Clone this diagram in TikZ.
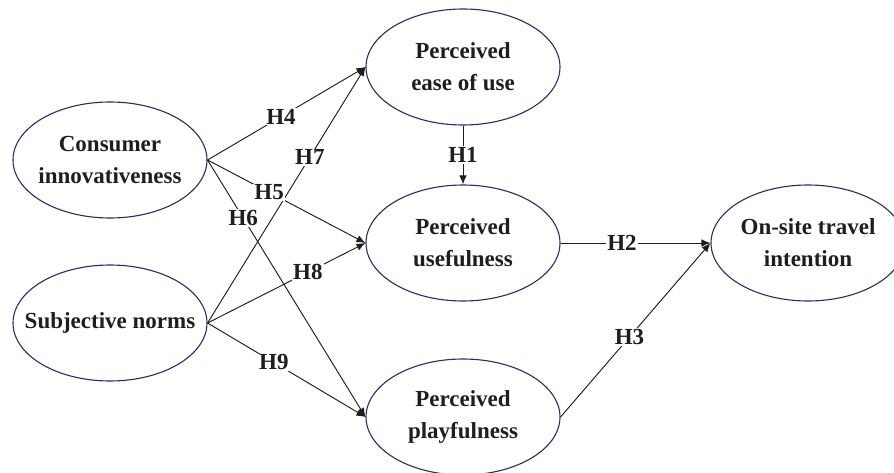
\documentclass[tikz,border=0pt]{standalone}
\usepackage{fontspec}
\setmainfont{Liberation Serif}
\usetikzlibrary{shapes.geometric,arrows.meta}
\definecolor{navy}{HTML}{2B2B6B}
\definecolor{ink}{HTML}{1E1E1E}
\begin{document}
\begin{tikzpicture}[x=1pt,y=-1pt,
  construct/.style={ellipse,draw=navy,line width=1.1pt,minimum width=194pt,minimum height=116pt,inner xsep=-30pt,inner ysep=0pt,align=center,text=ink,font=\fontsize{23}{32}\selectfont\bfseries},
  link/.style={draw=ink,line width=0.95pt,-{Latex[length=9pt,width=7.5pt]}},
  hyp/.style={fill=white,inner sep=1pt,text=ink,font=\fontsize{23}{26}\selectfont\bfseries}]
\useasboundingbox (0,0) rectangle (894,473);
\node[construct] (ci) at (110,160) {Consumer\\innovativeness};
\node[construct] (sn) at (110,323) {Subjective norms};
\node[construct] (peu) at (463,67) {Perceived\\ease of use};
\node[construct] (pu) at (463,243) {Perceived\\usefulness};
\node[construct] (pp) at (463,417) {Perceived\\playfulness};
\node[construct] (oti) at (808,243) {On-site travel\\intention};
\draw[link] (ci.east) -- node[hyp,pos=0.465] {H4} (peu.west);
\draw[link] (sn.east) -- node[hyp,pos=0.648] {H7} (peu.west);
\draw[link] (ci.east) -- node[hyp,pos=0.39] {H5} (pu.west);
\draw[link] (ci.east) -- node[hyp,pos=0.226] {H6} (pp.west);
\draw[link] (sn.east) -- node[hyp,pos=0.635] {H8} (pu.west);
\draw[link] (sn.east) -- node[hyp,pos=0.42] {H9} (pp.west);
\draw[link] (peu.south) -- node[hyp] {H1} (pu.north);
\draw[link] (pu.east) -- node[hyp,pos=0.41] {H2} (oti.west);
\draw[link] (pp.east) -- node[hyp,pos=0.46] {H3} (oti.west);
\end{tikzpicture}
\end{document}
